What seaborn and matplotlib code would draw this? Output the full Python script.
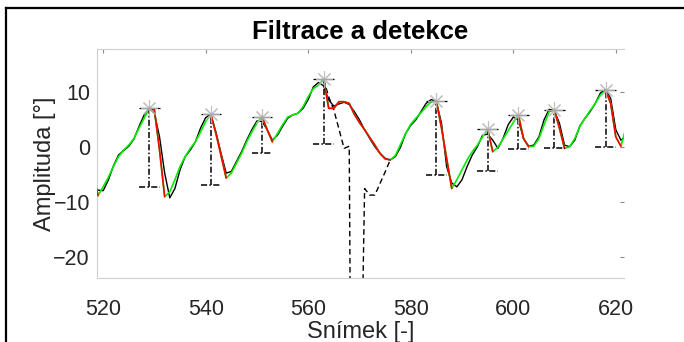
import numpy as np
import pandas as pd
import matplotlib
matplotlib.use("Agg")
import matplotlib.pyplot as plt
import seaborn as sns
from matplotlib.lines import Line2D

# ---------------- data ----------------
frames = list(range(518, 623))
raw = [-6.5, -7.8, -7.9, -6.0, -3.4, -1.4, -0.6, 0.2, 1.5, 3.8,
       5.9, 7.1, 6.2, 1.9, -4.7, -9.2, -7.5, -4.1, -1.7, -0.5,
       1.0, 3.5, 5.4, 6.0, 2.8, -1.1, -4.7, -4.4, -2.6, -0.8,
       1.3, 3.2, 4.8, 4.7, 3.2, 1.3, 2.2, 3.8, 5.3, 5.9,
       6.2, 7.1, 8.7, 11.0, 11.8, 11.2, 8.6, 7.5, 7.9, 8.2,
       7.8, 6.5, 5.0, 3.2, 1.6, 0.1, -1.1, -2.0, -2.3, -1.7,
       0.0, 2.5, 4.0, 5.0, 6.5, 8.0, 8.7, 8.3, 4.4, -3.5,
       -6.5, -7.2, -5.9, -3.5, -1.4, 0.1, 2.2, 2.4, 1.3, -0.2,
       1.6, 4.1, 5.5, 5.0, 1.6, 0.2, 0.4, 1.9, 5.0, 6.9,
       6.7, 4.4, 0.4, 0.1, 1.3, 3.9, 5.3, 6.5, 8.0, 9.9,
       10.5, 8.9, 3.2, 1.3, 2.0]
filtered = [-4.5, -8.8, -7.2, -5.5, -3.5, -1.7, -0.5, 0.4, 1.6, 3.5,
            5.3, 7.1, 6.8, -0.5, -9.0, -8.1, -5.9, -3.5, -1.7, -0.2,
            1.0, 2.8, 4.7, 6.0, 2.5, -1.5, -5.6, -4.7, -2.9, -1.1,
            1.0, 2.8, 4.4, 5.6, 3.2, 1.0, 2.5, 4.1, 5.5, 5.9,
            6.2, 7.4, 9.2, 10.7, 11.3, 12.4, 7.1, 7.1, 8.3, 8.3,
            8.0, 6.0, 4.5, 3.2, 1.8, 0.4, -1.1, -2.1, -2.3, -1.5,
            0.5, 2.5, 4.2, 5.3, 6.3, 7.4, 8.3, 8.4, 3.5, -2.0,
            -7.5, -5.9, -4.1, -2.3, -0.8, 0.4, 1.9, 3.3, -0.8, 0.0,
            1.5, 3.0, 4.5, 5.9, 1.6, 0.1, 0.2, 1.6, 4.1, 6.5,
            6.8, 3.5, -0.2, 0.1, 1.6, 3.8, 5.3, 6.7, 8.0, 9.5,
            10.4, 8.0, 1.9, 0.2, 3.6]
# falling parts of the filtered signal (drawn red): start frame -> trough frame
fall_start = [518, 529, 541, 551, 563, 585, 595, 601, 608, 618]
fall_end = [519, 532, 544, 553, 576, 588, 596, 603, 610, 621]
# original (uncorrected) samples in the artefact region
outlier_frames = list(range(563, 577))
outlier_vals = [12.4, 9.2, 6.8, 3.3, -0.2, 0.2, -150.0, -62.0, -7.5, -8.7,
                -8.7, -6.6, -4.5, -2.3]
# detected peaks and their baselines
peak_x = [529, 541, 551, 563, 585, 595, 601, 608, 618]
peak_y = [7.1, 6.0, 5.6, 12.4, 8.4, 3.3, 5.9, 6.8, 10.4]
base_y = [-7.2, -6.9, -1.1, 0.6, -5.0, -4.4, -0.4, -0.1, 0.0]
x_ticks = [520, 540, 560, 580, 600, 620]
y_ticks = [-20, -10, 0, 10]

title = "Filtrace a detekce"
xlabel = "Snímek [-]"
ylabel = "Amplituda [°]"

# ---------------- style ----------------
sns.set_theme(style="white")
plt.rcParams["font.family"] = ["Liberation Sans", "DejaVu Sans"]

fig = plt.figure(figsize=(6.84, 3.42), dpi=100)
fig.patch.set_facecolor("white")
ax = fig.add_axes([97 / 684, 1 - 278 / 342, (624 - 97) / 684, (278 - 49) / 342])
ax.set_facecolor("white")

df = pd.DataFrame({"frame": frames, "raw": raw, "filt": filtered})
dfo = pd.DataFrame({"frame": outlier_frames, "val": outlier_vals})

# raw signal
sns.lineplot(data=df, x="frame", y="raw", color="black", lw=1.0,
             estimator=None, sort=False, ax=ax, zorder=2)
# original artefact samples (dashed)
sns.lineplot(data=dfo, x="frame", y="val", color="black", lw=1.0,
             estimator=None, sort=False, ax=ax, zorder=2)
ax.lines[-1].set_dashes([4, 2.5])
# filtered signal, green
sns.lineplot(data=df, x="frame", y="filt", color="#00ee00", lw=1.2,
             estimator=None, sort=False, ax=ax, zorder=3)
# falling parts red
for s, e in zip(fall_start, fall_end):
    sub = df[(df["frame"] >= s) & (df["frame"] <= e)]
    sns.lineplot(data=sub, x="frame", y="filt", color="#ff0000", lw=1.2,
                 estimator=None, sort=False, ax=ax, zorder=4)

# peak-to-baseline bars
px = np.array(peak_x, dtype=float)
cap = 2.0
dd = (0, (4, 1.5, 1, 1.5))
ax.vlines(px, base_y, peak_y, colors="black", linestyles=dd, lw=1.1, zorder=5)
ax.hlines(base_y, px - cap, px + cap, colors="black", linestyles=dd, lw=1.1, zorder=5)
ax.hlines(peak_y, px - cap, px + cap, colors="black", linestyles="-", lw=0.9, zorder=5)
# peak markers
ax.plot(px, peak_y, ls="none", marker=(8, 2, 0), ms=12, mew=0.8,
        mec="#b8b8b8", alpha=0.9, zorder=6)

# axes cosmetics
ax.set_xlim(518.8, 621.6)
ax.set_ylim(-23.8, 17.9)
ax.set_xticks(x_ticks)
ax.set_yticks(y_ticks)
for side in ["left", "top", "bottom"]:
    ax.spines[side].set_color("#cfcfcf")
    ax.spines[side].set_linewidth(0.8)
ax.spines["right"].set_visible(False)
ax.tick_params(direction="in", length=3, width=0.8, color="#8c8c8c",
               top=True, right=True, labelsize=15.5, labelcolor="#262626")
ax.tick_params(axis="x", pad=15)
ax.tick_params(axis="y", pad=5)
ax.set_xlabel(xlabel, fontsize=17, color="#262626", labelpad=1)
ax.set_ylabel(ylabel, fontsize=17, color="#262626", labelpad=-2)
ax.set_title(title, fontsize=18.5, fontweight="bold", color="black", pad=7)

# figure frame (only left and top edges are inside the picture)
fx = 6 / 684
fy = 1 - 8 / 342
fig.add_artist(Line2D([fx, fx], [0, fy], transform=fig.transFigure,
                      color="black", lw=1.6, solid_capstyle="projecting"))
fig.add_artist(Line2D([fx, 1], [fy, fy], transform=fig.transFigure,
                      color="black", lw=1.6, solid_capstyle="projecting"))

fig.savefig("out.png", dpi=100, facecolor="white")
